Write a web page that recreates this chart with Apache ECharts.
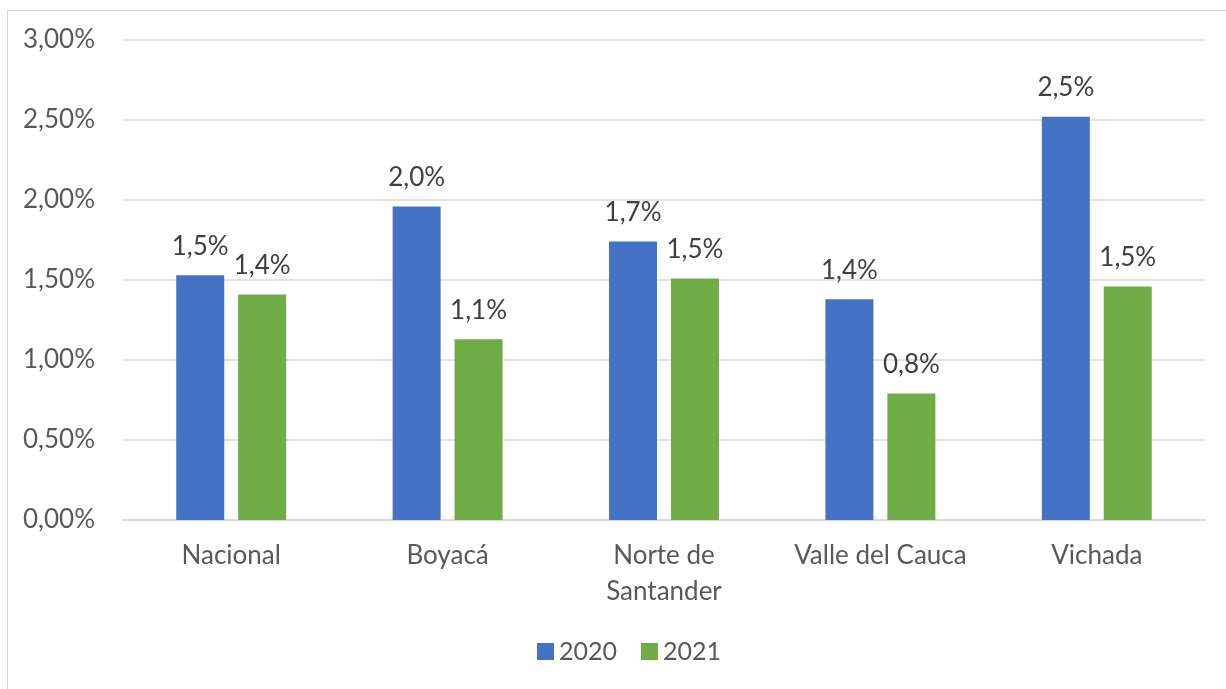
<!DOCTYPE html>
<html>
<head>
<meta charset="utf-8">
<script src="https://cdn.jsdelivr.net/npm/echarts@6/dist/echarts.min.js"></script>
<style>
  html, body { margin: 0; padding: 0; background: #fff; }
  #frame { position: absolute; left: 7px; top: 10px; width: 1230px; height: 700px; border: 1px solid #d9d9d9; box-sizing: border-box; }
  #chart { width: 1226px; height: 689px; position: absolute; left: 0; top: 0; }
</style>
</head>
<body>
<div id="frame"></div>
<div id="chart"></div>
<script>
// categorías y valores (%)
const categories = ['Nacional', 'Boyacá', 'Norte de\nSantander', 'Valle del Cauca', 'Vichada']
const values2020 = [1.53, 1.96, 1.74, 1.38, 2.52]
const values2021 = [1.41, 1.13, 1.51, 0.79, 1.46]
const seriesNames = ['2020', '2021']
const colors = ['#4472C4', '#70AD47']

const fontFamily = 'Lato, "Open Sans", sans-serif'
const fmtLabel = p => p.value.toFixed(1).replace('.', ',') + '%'

const chart = echarts.init(document.getElementById('chart'))

const option = {
  animation: false,
  textStyle: { fontFamily: fontFamily },
  legend: {
    bottom: 20,
    left: 532,
    itemWidth: 17,
    itemHeight: 17,
    itemGap: 24,
    icon: 'rect',
    textStyle: { fontSize: 25, color: '#595959', fontFamily: fontFamily },
    data: seriesNames
  },
  grid: {
    left: 123,
    right: 21,
    top: 40,
    bottom: 169
  },
  xAxis: {
    type: 'category',
    data: categories,
    axisTick: { show: false },
    axisLine: { lineStyle: { color: '#d9d9d9', width: 1.5 } },
    axisLabel: {
      fontSize: 26,
      color: '#595959',
      margin: 18,
      lineHeight: 36,
      interval: 0
    }
  },
  yAxis: {
    type: 'value',
    min: 0,
    max: 3,
    interval: 0.5,
    axisLine: { show: false },
    axisTick: { show: false },
    splitLine: { lineStyle: { color: '#d9d9d9', width: 1.5 } },
    axisLabel: {
      fontSize: 26,
      color: '#595959',
      margin: 28,
      formatter: v => v.toFixed(2).replace('.', ',') + '%'
    }
  },
  series: [
    {
      name: seriesNames[0],
      type: 'bar',
      data: values2020,
      barWidth: 48,
      barGap: '29%',
      itemStyle: { color: colors[0] },
      label: {
        show: true,
        position: 'top',
        distance: 16,
        fontSize: 26,
        color: '#404040',
        formatter: fmtLabel
      }
    },
    {
      name: seriesNames[1],
      type: 'bar',
      data: values2021,
      barWidth: 48,
      itemStyle: { color: colors[1] },
      label: {
        show: true,
        position: 'top',
        distance: 16,
        fontSize: 26,
        color: '#404040',
        formatter: fmtLabel
      }
    }
  ]
}

chart.setOption(option)
</script>
</body>
</html>
